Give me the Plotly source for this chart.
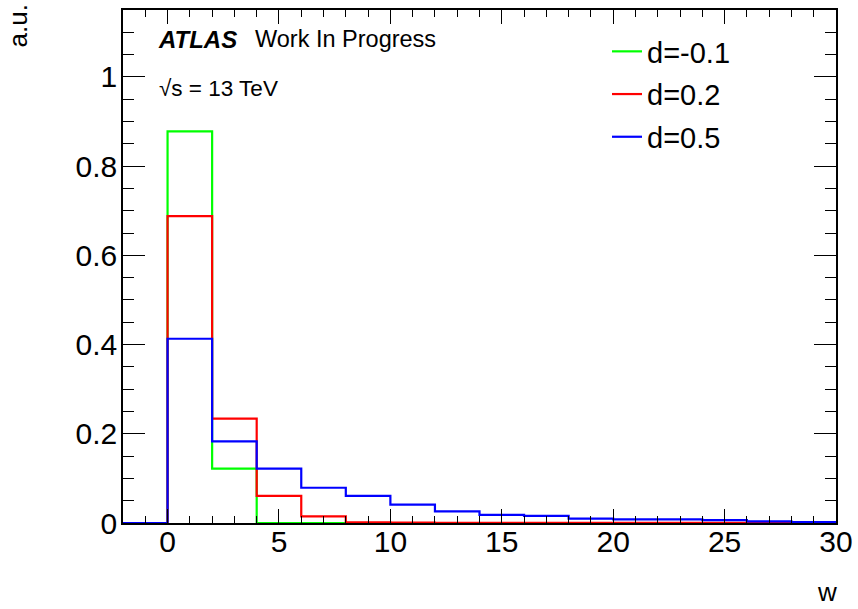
import plotly.graph_objects as go

# ---- data ----
bin_edges = [-2, 0, 2, 4, 6, 8, 10, 12, 14, 16, 18, 20, 22, 24, 26, 28, 30]
series_names = ["d=-0.1", "d=0.2", "d=0.5"]
series_colors = ["#00ff00", "#ff0000", "#0000ff"]
green_vals = [0, 0.878, 0.122, 0, 0, 0, 0, 0, 0, 0, 0, 0, 0, 0, 0, 0]
red_vals = [0, 0.688, 0.234, 0.061, 0.015, 0.0012, 0.0008, 0.0006, 0.0005, 0.0004,
            0.0003, 0.0003, 0.0002, 0.0002, 0.0001, 0.0001]
blue_vals = [0, 0.413, 0.183, 0.122, 0.079, 0.061, 0.041, 0.026, 0.018, 0.016,
             0.010, 0.008, 0.008, 0.0065, 0.0035, 0.002]
x_ticks = [0, 5, 10, 15, 20, 25, 30]
y_ticks = [0, 0.2, 0.4, 0.6, 0.8, 1]

FONT = "Liberation Sans, Arial, Helvetica, sans-serif"

fig = go.Figure()
for i, (name, color, vals) in enumerate(zip(series_names, series_colors,
                                            [green_vals, red_vals, blue_vals])):
    fig.add_trace(go.Scatter(
        x=bin_edges, y=list(vals) + [vals[-1]],
        mode="lines", line=dict(shape="hv", color=color, width=2.2),
        name=name, legendgroup=f"g{i}", cliponaxis=True,
    ))

W, H = 858, 609
L, R, T, B = 123, 22, 10, 86
PW, PH = W - L - R, H - T - B


def px(xp):
    return (xp - L) / PW


def py(yp):
    return 1 - (yp - T) / PH


fig.update_layout(
    width=W, height=H,
    margin=dict(l=L, r=R, t=T, b=B, autoexpand=False),
    paper_bgcolor="white", plot_bgcolor="white",
    font=dict(family=FONT, color="black", size=30),
    showlegend=True,
    legend=dict(
        x=px(607), y=py(26),
        xanchor="left", yanchor="top",
        bgcolor="rgba(0,0,0,0)", borderwidth=0,
        font=dict(size=29, family=FONT),
        itemwidth=30, tracegroupgap=2,
    ),
    xaxis=dict(
        range=[-2, 30], tickvals=x_ticks, ticktext=[str(v) for v in x_ticks],
        automargin=False,
        showgrid=False, zeroline=False,
        showline=True, linecolor="black", linewidth=1.5, mirror="allticks",
        ticks="inside", ticklen=14, tickwidth=1.2, tickcolor="black",
        minor=dict(dtick=1, tick0=0, ticks="inside", ticklen=7, tickwidth=1.2,
                   tickcolor="black", showgrid=False),
        tickfont=dict(size=30, family=FONT),
        ticklabelstandoff=-9,
    ),
    yaxis=dict(
        range=[0, 1.15], tickvals=y_ticks, ticktext=[f"{v:g}" for v in y_ticks],
        automargin=False,
        showgrid=False, zeroline=False,
        showline=True, linecolor="black", linewidth=1.5, mirror="allticks",
        ticks="inside", ticklen=22, tickwidth=1.2, tickcolor="black",
        minor=dict(dtick=0.05, tick0=0, ticks="inside", ticklen=11, tickwidth=1.2,
                   tickcolor="black", showgrid=False),
        tickfont=dict(size=30, family=FONT),
        ticklabelstandoff=-2,
    ),
)

annotations = [
    dict(text="<b><i>ATLAS</i></b>", x=156, y=39, size=24),
    dict(text="Work In Progress", x=253, y=39, size=23.5),
    dict(text="√s = 13 TeV", x=157, y=88, size=22.5),
]
for a in annotations:
    fig.add_annotation(
        text=a["text"], xref="paper", yref="paper",
        x=px(a["x"]), y=py(a["y"]),
        xanchor="left", yanchor="middle", showarrow=False,
        font=dict(family=FONT, color="black", size=a["size"]),
    )

# axis titles
fig.add_annotation(text="a.u.", xref="paper", yref="paper",
                   x=px(17), y=py(3),
                   xanchor="center", yanchor="top", textangle=-90, showarrow=False,
                   font=dict(family=FONT, size=26, color="black"))
fig.add_annotation(text="w", xref="paper", yref="paper",
                   x=px(839), y=py(592),
                   xanchor="right", yanchor="middle", showarrow=False,
                   font=dict(family=FONT, size=26, color="black"))

fig.write_html("out.html")
